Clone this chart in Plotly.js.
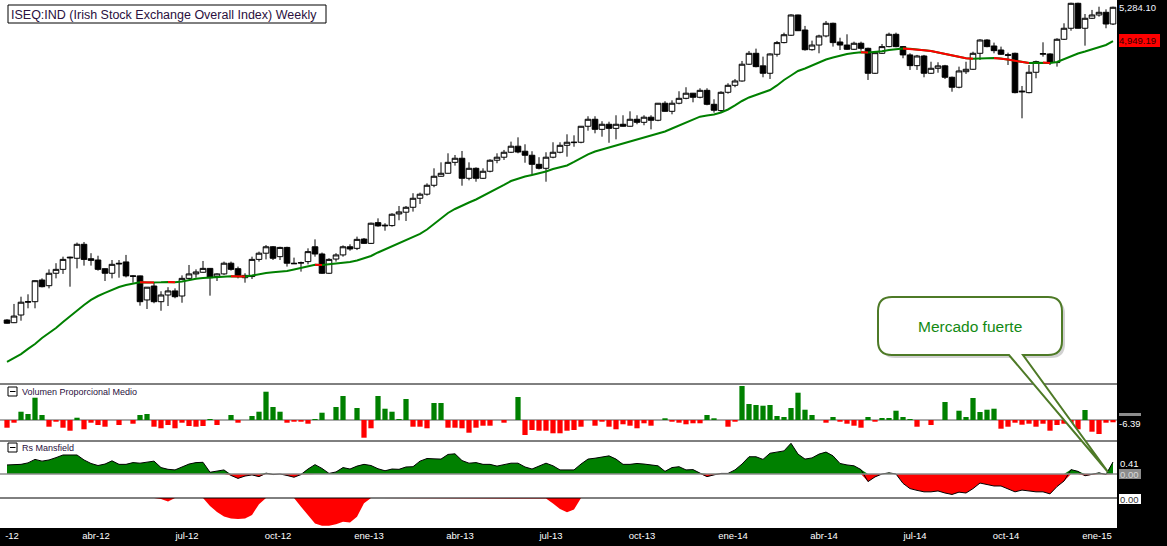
<!DOCTYPE html>
<html><head><meta charset="utf-8">
<script src="https://cdn.plot.ly/plotly-3.0.1.min.js"></script>
<style>html,body{margin:0;padding:0;background:#000;overflow:hidden}#chart{width:1167px;height:546px}</style>
</head><body><div id="chart"></div>
<script>
// ---- Data (weekly, first week ending 2012-01-06) ----
const primeraSemana = '2012-01-06';
const apertura = [2886,2871,2914,2987,2990,3118,3084,3159,3183,3254,
 3252,3341,3249,3241,3187,3159,3216,3229,3143,3143,
 3000,3082,2990,3029,3053,3023,3128,3155,3165,3189,
 3139,3155,3221,3187,3132,3139,3245,3284,3325,3262,
 3321,3221,3222,3231,3325,3279,3159,3247,3273,3325,
 3315,3375,3347,3484,3462,3464,3543,3555,3589,3652,
 3681,3745,3811,3833,3915,3946,3796,3870,3796,3848,
 3931,3954,3992,4039,4000,3969,3900,3870,3954,3992,
 4046,4067,4070,4198,4255,4173,4214,4181,4214,4198,
 4255,4230,4272,4247,4389,4321,4389,4431,4475,4440,
 4500,4380,4327,4483,4544,4582,4733,4834,4718,4651,
 4825,4935,5006,5206,5057,4868,4912,4999,5123,4941,
 4912,4872,4929,4881,4651,4834,4897,5015,4897,4819,
 4720,4809,4651,4696,4718,4615,4527,4665,4687,4834,
 4960,4903,4865,4821,4834,4486,4480,4660,4825,4828,
 4748,4967,5074,5325,5074,5173,5206,5233,5116];
const maximo = [2890,2977,3019,3033,3116,3128,3183,3221,3262,3262,
 3352,3356,3284,3268,3189,3241,3241,3273,3147,3145,
 3076,3102,3051,3075,3068,3146,3210,3183,3235,3191,
 3159,3231,3231,3200,3159,3262,3294,3336,3330,3325,
 3325,3256,3231,3315,3373,3288,3252,3284,3334,3341,
 3391,3382,3484,3513,3480,3548,3598,3598,3688,3692,
 3759,3870,3915,3984,3971,4002,3915,3877,3870,3938,
 3984,4010,4075,4109,4054,4000,3954,3992,4070,4070,
 4133,4125,4200,4280,4280,4239,4235,4288,4288,4321,
 4288,4288,4288,4391,4406,4414,4492,4527,4477,4518,
 4518,4423,4492,4562,4600,4763,4856,4878,4803,4834,
 4951,5031,5213,5209,5097,4954,5011,5146,5129,4982,
 5015,4944,4944,4887,4849,4922,5031,5031,4903,4834,
 4819,4819,4756,4751,4727,4621,4711,4756,4849,4967,
 4967,4935,4897,4840,4840,4538,4726,4766,4938,4834,
 4977,5123,5331,5331,5216,5257,5290,5263,5290];
const minimo = [2866,2869,2882,2952,2952,3074,3068,3128,3155,3078,
 3189,3206,3206,3175,3112,3128,3132,3134,3102,2967,
 2948,2981,2938,2965,3010,2984,3122,3132,3163,3025,
 3112,3149,3175,3128,3102,3124,3231,3245,3241,3241,
 3200,3217,3169,3214,3262,3155,3155,3231,3262,3300,
 3304,3343,3343,3457,3430,3457,3500,3495,3559,3612,
 3671,3731,3808,3831,3890,3742,3781,3771,3791,3840,
 3908,3933,3986,3984,3912,3820,3862,3771,3946,3984,
 3958,4035,4062,4162,4141,4114,4066,4093,4195,4195,
 4214,4206,4173,4239,4318,4296,4380,4423,4397,4431,
 4372,4310,4313,4471,4527,4576,4726,4705,4615,4600,
 4803,4929,4999,5047,4859,4859,4834,4986,4897,4865,
 4865,4865,4859,4591,4645,4828,4891,4891,4788,4681,
 4681,4615,4645,4656,4600,4488,4518,4645,4681,4772,
 4891,4834,4819,4726,4474,4263,4474,4606,4803,4726,
 4711,4960,5050,5072,4906,5166,5189,5074,5106];
const cierre = [2868,2908,2987,2990,3114,3078,3159,3183,3245,3258,
 3341,3245,3239,3183,3159,3214,3220,3143,3141,2990,
 3075,2990,3029,3053,3019,3128,3155,3167,3189,3132,
 3155,3221,3183,3139,3146,3245,3284,3325,3252,3321,
 3221,3218,3224,3294,3279,3159,3245,3273,3325,3311,
 3373,3347,3480,3462,3466,3541,3557,3589,3652,3681,
 3745,3811,3833,3915,3946,3796,3870,3796,3848,3931,
 3954,3992,4039,3994,3969,3900,3870,3954,3992,4046,
 4070,4070,4198,4255,4173,4214,4181,4214,4198,4255,
 4230,4272,4247,4389,4321,4389,4431,4475,4440,4500,
 4380,4330,4483,4544,4582,4733,4834,4711,4651,4828,
 4935,5011,5206,5050,4868,4912,4999,5123,4935,4912,
 4872,4929,4881,4651,4840,4897,5015,4897,4819,4720,
 4809,4651,4696,4718,4615,4527,4672,4687,4834,4960,
 4897,4859,4825,4816,4480,4492,4660,4757,4831,4748,
 4967,5074,5325,5074,5173,5206,5233,5116,5284.10];
const mediaMovil = [2661,2682,2702,2729,2755,2787,2814,2842,2875,2908,
 2942,2971,3000,3023,3041,3058,3076,3088,3097,3105.0,
 3103.8,3102.6,3104.4,3106.2,3104.4,3109.2,3118.1,3125.4,3130.2,3133.2,
 3136.2,3139.3,3141.1,3139.3,3138.7,3145.3,3154.8,3160.9,3165.1,3168.1,
 3173.0,3182.1,3191.4,3203.9,3211.3,3209.5,3213.2,3219.4,3223.7,3228.7,
 3238.0,3250.6,3266.4,3288.6,3307.6,3326.9,3346.3,3365.7,3385.3,3408.5,
 3438.1,3474.9,3512.0,3549.8,3577.2,3601.5,3622.5,3643.5,3668.3,3693.3,
 3718.3,3747.3,3776.1,3794.6,3809.4,3820.5,3831.5,3846.3,3865.0,3876.3,
 3891.4,3917.7,3948.2,3975.2,3998.1,4013.5,4025.3,4041.0,4056.5,4072.2,
 4087.9,4103.9,4119.9,4135.9,4155.7,4180.0,4204.4,4228.7,4257.4,4276.5,
 4286.5,4294.8,4311.4,4336.4,4370.4,4408.2,4438.2,4459.7,4476.9,4503.0,
 4542.6,4591.0,4630.8,4671.7,4694.3,4721.6,4753.8,4776.7,4795.3,4813.9,
 4827.8,4837.3,4843.8,4841.0,4844.7,4854.0,4865.2,4875.7,4879.5,4875.7,
 4870.0,4862.4,4855.9,4841.9,4827.8,4809.2,4795.3,4787.8,4783.2,4786.0,
 4788.7,4790.6,4786.0,4776.7,4764.7,4753.8,4744.7,4747.4,4748.3,4744.7,
 4753.8,4781.1,4809.2,4832.6,4851.3,4870.0,4889.0,4912.7,4949.19];
const volumenProporcional = [-21.6,-7.6,23.2,16.8,62.4,14,-18.8,-4.8,-21.6,-30,
 6.4,-26,-7.6,-14,-18.8,0,-14,0,-10.4,14,
 16.8,-18.8,-23.2,-14,-23.2,-7.6,-16.8,-18.8,-16.8,2.8,
 -14,0,14,-7.6,0,11.2,23.2,79.2,36.4,23.2,
 -7.6,-4.8,-4.8,-10.4,2.8,20.4,0,36.4,67.2,0,
 33.6,-49.6,-23.2,67.2,31.6,23.2,2.8,58.8,-18.8,-18.8,
 -23.2,47.6,47.6,-21.6,-21.6,-23.2,-35.6,-21.6,-16,-16,
 0,-7.6,0,64.4,-42,-28,-30,-30,-37.2,-37.2,
 -30,-28,-18.8,0,-16,-4.8,-18.8,-26,-12,-16,
 -23.2,-9.2,-16,0,4.8,-4.8,-7.6,-12,-9.2,-9.2,
 14,4.8,0,-18.8,-4.8,95.2,44.8,42,40,42,
 11.2,8.4,33.6,76.4,28.8,14,0,-7.6,8.4,-4.8,
 -10.4,-16,-21.6,8.4,-4.8,5.6,5.6,26,8.4,2.8,
 -18.8,0,-14,0,50.4,0,26,8.4,61.6,22.4,
 28.8,31.6,-24.4,-18.8,-7.6,-13.2,-10.4,-18.8,-10.4,-30,
 -14,-10.4,-10.4,-26,28,-32.8,-39.2,-7.6,-6.39];
const rsMansfield = [0.31,0.32,0.33,0.38,0.50,0.44,0.48,0.56,0.65,0.65,
 0.65,0.48,0.36,0.29,0.34,0.45,0.33,0.33,0.39,0.37,
 0.40,0.44,0.22,0.16,0.14,0.25,0.34,0.39,0.40,0.06,
 0.10,0.14,-0.05,-0.15,-0.07,-0.03,-0.09,0.03,-0.02,0.00,
 -0.05,-0.11,-0.02,0.17,0.32,0.19,0.02,0.07,0.22,0.17,
 0.27,0.33,0.29,0.18,0.11,0.17,0.16,0.24,0.25,0.44,
 0.53,0.51,0.51,0.67,0.69,0.46,0.37,0.39,0.33,0.33,
 0.27,0.32,0.37,0.37,0.24,0.17,0.26,0.37,0.28,0.14,
 0.14,0.14,0.34,0.51,0.54,0.58,0.62,0.51,0.33,0.33,
 0.36,0.34,0.31,0.28,0.09,0.22,0.25,0.14,0.15,0.03,
 -0.09,-0.03,0.02,0.02,0.14,0.34,0.59,0.59,0.50,0.71,
 0.74,0.79,1.05,0.68,0.51,0.55,0.68,0.75,0.62,0.36,
 0.31,0.28,0.15,-0.26,-0.10,0.00,0.04,0.00,-0.32,-0.50,
 -0.56,-0.61,-0.61,-0.58,-0.65,-0.70,-0.62,-0.65,-0.50,-0.31,
 -0.36,-0.41,-0.41,-0.51,-0.61,-0.55,-0.58,-0.61,-0.61,-0.68,
 -0.43,-0.24,0.15,0.09,-0.06,-0.02,0.04,-0.02,0.41];
const rsInferior = [0,0,0,0,0,0,0,0,0,0,
 0,0,0,0,0,0,0,0,0,0,
 0,0,-0.03,-0.12,0,0,0,0,0,-0.27,
 -0.48,-0.63,-0.70,-0.72,-0.70,-0.58,-0.21,0,0,0,
 0,0,-0.30,-0.58,-0.87,-0.95,-0.95,-0.90,-0.81,-0.84,
 -0.64,-0.18,0,0,0,0,0,0,0,0,
 0,0,0,0,0,0,0,0,0,0,
 0,0,0,0,0,0,0,-0.02,-0.19,-0.38,
 -0.49,-0.39,0,0,0,0,0,0,0,0,
 0,0,0,0,0,0,0,0,0,0,
 0,0,0,0,0,0,0,0,0,0,
 0,0,0,0,0,0,0,0,0,0,
 0,0,0,0,0,0,0,0,0,0,
 0,0,0,0,0,0,0,0,0,0,
 0,0,0,0,0,0,0,0,0,0,
 0,0,0,0,0,0,0,0,0];
const fechasEtiquetas = ['2012-01-11','2012-04-04','2012-07-04','2012-10-03','2013-01-02','2013-04-03',
 '2013-07-03','2013-10-02','2014-01-01','2014-04-02','2014-07-02','2014-10-01','2014-12-31'];
const textosEtiquetas = ['-12','abr-12','jul-12','oct-12','ene-13','abr-13','jul-13','oct-13','ene-14','abr-14','jul-14','oct-14','ene-15'];
const titulo = 'ISEQ:IND (Irish Stock Exchange Overall Index) Weekly';
const etiquetaVolumen = 'Volumen Proporcional Medio';
const etiquetaRs = 'Rs Mansfield';
const textoNota = 'Mercado fuerte';
const ultimoPrecio = '5,284.10';
const ultimaMedia = '4,949.19';
const ultimoVolumen = '-6.39';
const ultimoRs = '0.41';

// ---- Build ----
const semanas = apertura.map((_, i) => {
  const d = new Date(primeraSemana + 'T00:00:00Z');
  d.setUTCDate(d.getUTCDate() + 7 * i);
  return d.toISOString().slice(0, 10);
});
const VERDE = '#008000', ROJO = '#ff0000';
const mediaRoja = mediaMovil.map((v, i) => {
  const baja = (i > 0 && v < mediaMovil[i - 1]) || (i < mediaMovil.length - 1 && mediaMovil[i + 1] < v);
  return baja ? v : null;
});
const rsPos = rsMansfield.map(v => v > 0 ? v : 0);
const rsNeg = rsMansfield.map(v => v < 0 ? v : 0);

const W = 1117, H = 528;
const PX = x => x / W, PY = y => 1 - y / H;
const FONT = 'Liberation Sans, Arial, sans-serif';

const traces = [
  {type: 'candlestick', x: semanas, open: apertura, high: maximo, low: minimo, close: cierre,
   xaxis: 'x', yaxis: 'y', whiskerwidth: 0, hoverinfo: 'skip',
   increasing: {line: {color: '#000', width: 1}, fillcolor: '#fff'},
   decreasing: {line: {color: '#000', width: 1}, fillcolor: '#000'}},
  {type: 'scatter', mode: 'lines', x: semanas, y: mediaMovil, xaxis: 'x', yaxis: 'y',
   line: {color: VERDE, width: 2}, hoverinfo: 'skip'},
  {type: 'scatter', mode: 'lines', x: semanas, y: mediaRoja, xaxis: 'x', yaxis: 'y',
   connectgaps: false, line: {color: ROJO, width: 2}, hoverinfo: 'skip'},
  {type: 'bar', x: semanas, y: volumenProporcional, xaxis: 'x', yaxis: 'y2',
   marker: {color: volumenProporcional.map(v => v >= 0 ? VERDE : ROJO), line: {width: 0}}, hoverinfo: 'skip'},
  {type: 'scatter', mode: 'lines', x: semanas, y: rsPos, xaxis: 'x', yaxis: 'y3', fill: 'tozeroy',
   fillcolor: VERDE, line: {width: 0, color: VERDE}, hoverinfo: 'skip'},
  {type: 'scatter', mode: 'lines', x: semanas, y: rsNeg, xaxis: 'x', yaxis: 'y3', fill: 'tozeroy',
   fillcolor: ROJO, line: {width: 0, color: ROJO}, hoverinfo: 'skip'},
  {type: 'scatter', mode: 'lines', x: semanas, y: rsMansfield, xaxis: 'x', yaxis: 'y3',
   line: {color: '#000', width: 1}, hoverinfo: 'skip'},
  {type: 'scatter', mode: 'lines', x: semanas, y: rsInferior, xaxis: 'x', yaxis: 'y4', fill: 'tozeroy',
   fillcolor: ROJO, line: {width: 0, color: ROJO}, hoverinfo: 'skip'}
];

const yBase = {showticklabels: false, showgrid: false, zeroline: false, showline: false, ticks: '', fixedrange: true, anchor: 'x'};

function globo(ox, oy) {
  const X = v => PX(v + ox), Y = v => PY(v + oy);
  return `M${X(892)},${Y(297)} L${X(1048)},${Y(297)} Q${X(1062)},${Y(297)} ${X(1062)},${Y(311)} ` +
    `L${X(1062)},${Y(341)} Q${X(1062)},${Y(355)} ${X(1048)},${Y(355)} L${X(1023)},${Y(355)} ` +
    `L${X(1108)},${Y(472)} L${X(1009)},${Y(355)} L${X(892)},${Y(355)} Q${X(878)},${Y(355)} ${X(878)},${Y(341)} ` +
    `L${X(878)},${Y(311)} Q${X(878)},${Y(297)} ${X(892)},${Y(297)} Z`;
}
function rect(x0, y0, x1, y1, fill, lineColor, lw) {
  return {type: 'rect', xref: 'paper', yref: 'paper', x0: PX(x0), x1: PX(x1), y0: PY(y1), y1: PY(y0),
    fillcolor: fill, line: {color: lineColor || fill, width: lw === undefined ? 0 : lw}};
}
function hline(y, color, w) {
  return {type: 'line', xref: 'paper', yref: 'paper', x0: 0, x1: 1, y0: PY(y), y1: PY(y), line: {color: color, width: w}};
}
function icono(y0) {
  return [rect(8, y0, 17, y0 + 9, '#fff', '#000', 1),
    {type: 'line', xref: 'paper', yref: 'paper', x0: PX(10), x1: PX(15.5), y0: PY(y0 + 4.5), y1: PY(y0 + 4.5), line: {color: '#000', width: 1}}];
}

const shapes = [
  hline(384, '#000', 1), hline(441, '#000', 1), hline(498, '#000', 1),
  {type: 'line', xref: 'paper', yref: 'y2', x0: 0, x1: 1, y0: 0, y1: 0, line: {color: '#8c8c8c', width: 1.5}, layer: 'below'},
  {type: 'line', xref: 'paper', yref: 'y3', x0: 0, x1: 1, y0: 0, y1: 0, line: {color: '#8c8c8c', width: 1.5}},
  rect(8, 5, 326, 23, '#fff', '#000', 1),
  ...icono(387), ...icono(443),
  {type: 'path', xref: 'paper', yref: 'paper', path: globo(3, 3), fillcolor: 'rgba(0,0,0,0.18)', line: {width: 0}},
  {type: 'path', xref: 'paper', yref: 'paper', path: globo(0, 0), fillcolor: '#fff', line: {color: '#4e7a27', width: 2}},
  rect(1119, 34, 1160, 47, '#ff0000'),
  rect(1119, 413, 1141, 416, '#8c8c8c'),
  rect(1119, 469, 1141, 479, '#8c8c8c'),
  rect(1119, 494, 1141, 504, '#fff')
];

function nota(text, x, y, size, color, anchor) {
  return {text: text, xref: 'paper', yref: 'paper', x: PX(x), y: PY(y), xanchor: anchor || 'left', yanchor: 'middle',
    showarrow: false, font: {family: FONT, size: size, color: color}, borderpad: 0, borderwidth: 0};
}
const annotations = [
  nota(titulo, 11, 14.5, 12.5, '#2a1040'),
  nota(etiquetaVolumen, 22, 391.5, 9, '#2a1040'),
  nota(etiquetaRs, 22, 447.5, 9, '#2a1040'),
  nota(textoNota, 970, 326, 15.5, '#138a13', 'center'),
  nota(ultimoPrecio, 1119, 8, 9.5, '#f0f4ff'),
  nota(ultimaMedia, 1119, 40.5, 9.5, '#300000'),
  nota(ultimoVolumen, 1119, 423, 9.5, '#ffffff'),
  nota(ultimoRs, 1120, 463, 9.5, '#ffffff'),
  nota('0.00', 1120, 474, 9.5, '#d8d8d8'),
  nota('0.00', 1120, 499, 9.5, '#333333')
];

const layout = {
  width: 1167, height: 546,
  margin: {l: 0, r: 50, t: 0, b: 18, pad: 0},
  paper_bgcolor: '#000', plot_bgcolor: '#fff',
  showlegend: false, hovermode: false, dragmode: false,
  bargap: 0.25, boxgap: 0.2, boxgroupgap: 0,
  xaxis: {type: 'date', anchor: 'y4', range: ['2011-12-30', '2015-01-20'],
    rangeslider: {visible: false}, showgrid: false, zeroline: false, showline: false, ticks: '',
    tickmode: 'array', tickvals: fechasEtiquetas, ticktext: textosEtiquetas,
    tickfont: {family: FONT, size: 9.5, color: '#fff'}, fixedrange: true},
  yaxis: Object.assign({}, yBase, {type: 'log', domain: [1 - 384 / H, 1], range: [3.40653, 3.72909]}),
  yaxis2: Object.assign({}, yBase, {domain: [1 - 441 / H, 1 - 384 / H], range: [-58.8, 100.8]}),
  yaxis3: Object.assign({}, yBase, {domain: [1 - 498 / H, 1 - 441 / H], range: [-0.8208, 1.1286]}),
  yaxis4: Object.assign({}, yBase, {domain: [0, 1 - 498 / H], range: [-1.026, 0]}),
  shapes: shapes, annotations: annotations
};

Plotly.newPlot('chart', traces, layout, {staticPlot: true, displayModeBar: false});
</script>
</body></html>
